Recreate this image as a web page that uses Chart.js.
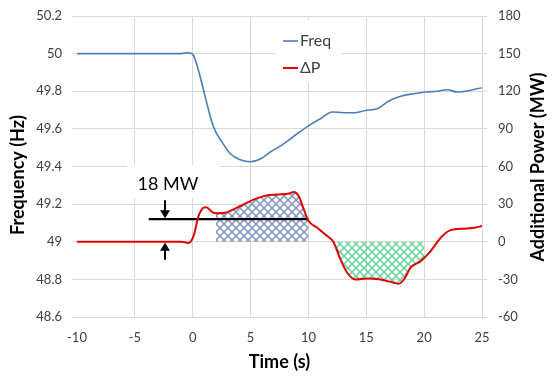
<!DOCTYPE html>
<html>
<head>
<meta charset="utf-8">
<script src="https://cdn.jsdelivr.net/npm/chart.js@4.4.0/dist/chart.umd.min.js"></script>
<style>
  html, body { margin: 0; padding: 0; background: #fff; }
</style>
</head>
<body>
<canvas id="chart" width="554" height="387"></canvas>
<script>
'use strict';

// axes
const timeTicks = [-10, -5, 0, 5, 10, 15, 20, 25];
const freqTicks = [48.6, 48.8, 49, 49.2, 49.4, 49.6, 49.8, 50, 50.2];
const powerTicks = [-60, -30, 0, 30, 60, 90, 120, 150, 180];

// frequency (Hz)
const freqTime = [-10, -1.0, -0.35, 0.07, 0.65, 1.08, 1.8, 2.53, 3.25, 4.11, 4.98, 5.84, 6.71, 7.86,
    9.02, 9.97, 11.04, 12.05, 13.06, 13.92, 14.94, 15.95, 16.95, 17.97, 19.12, 20.13, 21.14, 22.0,
    22.87, 24.03, 25.0];
const freqValue = [50.0, 50.0, 50.005, 49.99, 49.876, 49.77, 49.61, 49.53, 49.468, 49.436, 49.425,
    49.44, 49.477, 49.52, 49.574, 49.615, 49.654, 49.69, 49.686, 49.686, 49.698, 49.707, 49.748,
    49.773, 49.787, 49.796, 49.8, 49.808, 49.796, 49.805, 49.819];

// additional power dP (MW)
const dpTime = [-10, -1.0, -0.36, 0.07, 0.5, 0.93, 1.17, 1.66, 2.0, 2.81, 3.82, 4.98, 6.13, 7.29,
    8.3, 8.73, 9.16, 9.6, 10.0, 10.76, 11.62, 12.15, 12.77, 13.35, 14.07, 15.08, 16.23, 17.38,
    17.81, 18.25, 18.83, 19.7, 20.0, 20.56, 21.43, 22.29, 23.45, 24.31, 25.0];
const dpValue = [0, 0, -0.9, 4.5, 20.4, 27.1, 27.6, 23.9, 22.7, 23.1, 27.1, 32.4, 36.4, 37.7,
    38.5, 39.6, 36.4, 25.8, 16.8, 11.2, 4.5, 0, -14.1, -24.7, -30.1, -29.3, -30.1, -32.7,
    -33.5, -30.1, -20.7, -15.5, -13, -7.5, 3.2, 9.3, 10.4, 11.2, 12.5];

// shaded areas and 18 MW marker
const upRange = [2, 10];
const downRange = [12.15, 20];
const refLevel = 18;
const refTime = [-3.8, 10];
const arrowTime = -2.4;

const FONT = 'Lato, "Open Sans", sans-serif';

const ctx = document.getElementById('chart');

function hatch(color) {
    const c = document.createElement('canvas');
    c.width = 8; c.height = 8;
    const g = c.getContext('2d');
    g.strokeStyle = color;
    g.lineWidth = 1.5;
    g.beginPath();
    g.moveTo(-1, -1); g.lineTo(9, 9);
    g.moveTo(-1, 9); g.lineTo(9, -1);
    g.stroke();
    return ctx.getContext('2d').createPattern(c, 'repeat');
}

const pts = (xs, ys) => xs.map((x, i) => ({ x: x, y: ys[i] }));
const dpPoints = pts(dpTime, dpValue);
const between = (r) => dpPoints.filter(p => p.x >= r[0] && p.x <= r[1]);

function vTitle(c, text, x, y) {
    c.save();
    c.translate(x, y);
    c.rotate(-Math.PI / 2);
    c.font = 'bold 18px ' + FONT;
    c.textAlign = 'center';
    c.textBaseline = 'middle';
    c.fillStyle = '#000';
    c.fillText(text, 0, 0);
    c.restore();
}

// white boxes, arrows, legend, axis titles
const decor = {
    id: 'decor',
    beforeDatasetsDraw(chart) {
        const c = chart.ctx;
        c.save();
        c.fillStyle = '#fff';
        c.fillRect(275, 20, 67, 62);
        c.fillRect(127, 165, 93, 33);
        c.restore();
    },
    afterDatasetsDraw(chart) {
        const c = chart.ctx;
        const xs = chart.scales.x, y2 = chart.scales.y2;
        const ax = Math.round(xs.getPixelForValue(arrowTime));
        const yl = y2.getPixelForValue(refLevel);
        const y0 = y2.getPixelForValue(0);
        c.save();
        c.fillStyle = '#000';
        c.strokeStyle = '#000';
        c.lineWidth = 2;
        // down arrow
        c.beginPath(); c.moveTo(ax, yl - 19); c.lineTo(ax, yl - 8); c.stroke();
        c.beginPath(); c.moveTo(ax - 5, yl - 9); c.lineTo(ax + 5, yl - 9); c.lineTo(ax, yl - 1); c.closePath(); c.fill();
        // up arrow
        c.beginPath(); c.moveTo(ax, y0 + 18); c.lineTo(ax, y0 + 8); c.stroke();
        c.beginPath(); c.moveTo(ax - 5, y0 + 9); c.lineTo(ax + 5, y0 + 9); c.lineTo(ax, y0 + 1); c.closePath(); c.fill();

        c.font = '18px ' + FONT;
        c.textAlign = 'center';
        c.textBaseline = 'middle';
        c.fillText(refLevel + ' MW', 168, 184);

        // legend
        c.font = '16px ' + FONT;
        c.textAlign = 'left';
        c.fillStyle = '#404040';
        let ly = 41;
        chart.data.datasets.filter(d => d.legend).forEach(d => {
            c.strokeStyle = d.borderColor;
            c.lineWidth = d.borderWidth;
            c.beginPath(); c.moveTo(283, ly); c.lineTo(298, ly); c.stroke();
            c.fillText(d.label, 300, ly);
            ly += 27;
        });
        c.restore();

        vTitle(c, 'Frequency (Hz)', 18, 175);
        vTitle(c, 'Additional Power (MW)', 538, 167);
    }
};

const tickFont = { family: FONT, size: 13 };
const gridColor = '#d9d9d9';
const noPad = s => { s.paddingTop = 0; s.paddingBottom = 0; };

new Chart(ctx, {
    type: 'line',
    data: {
        datasets: [
            {
                label: 'Freq', legend: true, yAxisID: 'y', order: 0,
                data: pts(freqTime, freqValue),
                borderColor: '#4a7ebb', borderWidth: 1.6,
                pointRadius: 0, cubicInterpolationMode: 'monotone', fill: false
            },
            {
                label: 'ΔP', legend: true, yAxisID: 'y2', order: 0,
                data: dpPoints,
                borderColor: '#e00000', borderWidth: 2,
                pointRadius: 0, cubicInterpolationMode: 'monotone', fill: false
            },
            {
                label: 'ref', yAxisID: 'y2', order: 1,
                data: refTime.map(t => ({ x: t, y: refLevel })),
                borderColor: '#000', borderWidth: 2.2, pointRadius: 0, fill: false
            },
            {
                label: 'up', yAxisID: 'y2', order: 2,
                data: between(upRange),
                borderWidth: 0, pointRadius: 0, cubicInterpolationMode: 'monotone',
                backgroundColor: hatch('#7f95bf'), fill: 'origin'
            },
            {
                label: 'down', yAxisID: 'y2', order: 2,
                data: between(downRange),
                borderWidth: 0, pointRadius: 0, cubicInterpolationMode: 'monotone',
                backgroundColor: hatch('#62d49c'), fill: 'origin'
            }
        ]
    },
    options: {
        responsive: false,
        animation: false,
        events: [],
        layout: { padding: { top: 16, left: 0, right: 0, bottom: 0 } },
        plugins: { legend: { display: false }, tooltip: { enabled: false } },
        scales: {
            x: {
                type: 'linear', min: -10, max: 25,
                afterBuildTicks: s => { s.ticks = timeTicks.map(v => ({ value: v })); },
                afterFit: s => { s.height = 70; s.paddingLeft = 0; s.paddingRight = 0; },
                grid: {
                    color: c => (c.tick && c.tick.value === -10) ? 'rgba(0,0,0,0)' : gridColor,
                    drawTicks: false
                },
                border: { display: false },
                ticks: { font: tickFont, color: '#404040', padding: 13 },
                title: {
                    display: true, text: 'Time (s)', color: '#000',
                    font: { family: FONT, size: 18, weight: 'bold' },
                    padding: { top: 0, bottom: 14 }
                }
            },
            y: {
                position: 'left', min: 48.6, max: 50.2,
                afterBuildTicks: s => { s.ticks = freqTicks.map(v => ({ value: v })); },
                afterFit: s => { s.width = 77; noPad(s); },
                grid: { color: gridColor, tickLength: 5 },
                border: { display: false },
                ticks: { font: tickFont, color: '#404040', padding: 10,
                    callback: v => String(Number(v.toFixed(1))) }
            },
            y2: {
                position: 'right', min: -60, max: 180,
                afterBuildTicks: s => { s.ticks = powerTicks.map(v => ({ value: v })); },
                afterFit: s => { s.width = 72; noPad(s); },
                grid: { color: gridColor, tickLength: 5, drawOnChartArea: false },
                border: { display: false },
                ticks: { font: tickFont, color: '#404040', padding: 11 }
            }
        }
    },
    plugins: [decor]
});
</script>
</body>
</html>
